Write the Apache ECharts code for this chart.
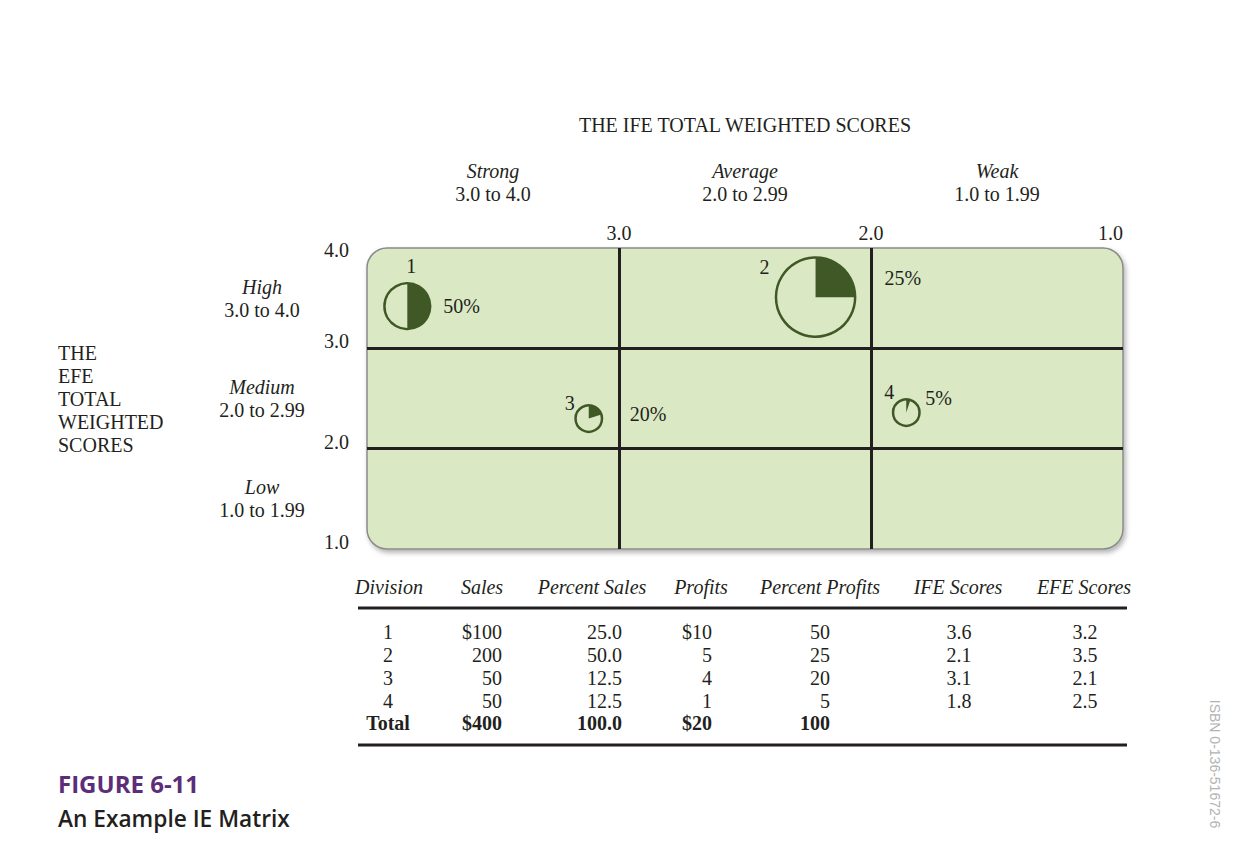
<!DOCTYPE html>
<html>
<head>
    <meta charset="utf-8">
    <title>IE Matrix</title>
    <script src="https://cdn.jsdelivr.net/npm/echarts@6.0.0/dist/echarts.min.js"></script>
    <style>
        html, body {
            margin: 0;
            width: 100%;
            height: 100%;
            background: #ffffff;
        }

        #main {
            width: 1238px;
            height: 852px;
        }
    </style>
</head>
<body>
<div id="main"></div>
<script type="text/javascript">
    // table data
    const divisions = [1, 2, 3, 4];
    const sales = [100, 200, 50, 50];
    const percentSales = [25.0, 50.0, 12.5, 12.5];
    const profits = [10, 5, 4, 1];
    const percentProfits = [50, 25, 20, 5];
    const ifeScores = [3.6, 2.1, 3.1, 1.8];
    const efeScores = [3.2, 3.5, 2.1, 2.5];

    // where the circles sit in the drawn matrix
    const ifePlot = [3.84, 2.22, 3.12, 1.86];
    const efePlot = [3.42, 3.51, 2.30, 2.36];

    // axis texts
    const ifeBands = ['Strong', 'Average', 'Weak'];
    const ifeRanges = ['3.0 to 4.0', '2.0 to 2.99', '1.0 to 1.99'];
    const efeBands = ['Low', 'Medium', 'High'];
    const efeRanges = ['1.0 to 1.99', '2.0 to 2.99', '3.0 to 4.0'];
    const splitScores = [3, 2];
    const headers = ['Division', 'Sales', 'Percent Sales', 'Profits', 'Percent Profits', 'IFE Scores', 'EFE Scores'];

    const ink = '#231f20';
    const olive = '#3f5826';
    const serif = '"Liberation Serif", "Times New Roman", serif';

    // label offsets around each circle (px)
    const numOffsets = [[4, -40], [-51, -30], [-19, -16], [-17, -21]];
    const pctOffsets = [[36, 0], [69, -19], [41, -5], [19, -15]];

    var myChart = echarts.init(document.getElementById('main'), null, {renderer: 'svg'});

    const bubbleData = divisions.map((d, i) => [ifePlot[i], efePlot[i], percentSales[i], percentProfits[i]]);

    // ---- table below the matrix ----
    const headerX = [389, 482, 592, 701, 820, 958, 1084];
    const colX = [388, 502, 622, 712, 830, 959, 1085];
    const colAlign = ['center', 'right', 'right', 'right', 'right', 'center', 'center'];
    const rowY = [632, 655, 678, 701];
    const totalY = 723;

    const sum = arr => arr.reduce((a, b) => a + b, 0);

    const rows = divisions.map((d, i) => [
        String(d),
        (i === 0 ? '$' : '') + sales[i],
        percentSales[i].toFixed(1),
        (i === 0 ? '$' : '') + profits[i],
        String(percentProfits[i]),
        ifeScores[i].toFixed(1),
        efeScores[i].toFixed(1)
    ]);
    const totalRow = ['Total', '$' + sum(sales), sum(percentSales).toFixed(1), '$' + sum(profits), String(sum(percentProfits)), '', ''];

    let graphics = [];
    headers.forEach((h, c) => {
        graphics.push({
            type: 'text', x: headerX[c], y: 587,
            style: {text: h, font: 'italic 20px ' + serif, fill: ink, align: 'center', verticalAlign: 'middle'}
        });
    });
    rows.forEach((row, r) => {
        row.forEach((t, c) => {
            graphics.push({
                type: 'text', x: colX[c], y: rowY[r],
                style: {text: t, font: '20px ' + serif, fill: ink, align: colAlign[c], verticalAlign: 'middle'}
            });
        });
    });
    totalRow.forEach((t, c) => {
        if (!t) return;
        graphics.push({
            type: 'text', x: colX[c], y: totalY,
            style: {text: t, font: 'bold 20px ' + serif, fill: ink, align: colAlign[c], verticalAlign: 'middle'}
        });
    });
    [608, 745].forEach(y => {
        graphics.push({
            type: 'line', shape: {x1: 358, y1: y, x2: 1127, y2: y},
            style: {stroke: ink, lineWidth: 3}
        });
    });

    // caption + side note
    graphics.push({
        type: 'text', x: 58, y: 783,
        style: {text: 'FIGURE 6-11', font: 'bold 24px "Open Sans", "Noto Sans", sans-serif', fill: '#5c2d78', align: 'left', verticalAlign: 'middle'}
    });
    graphics.push({
        type: 'text', x: 58, y: 818,
        style: {text: 'An Example IE Matrix', font: '600 22.7px "Open Sans", "Noto Sans", sans-serif', fill: ink, align: 'left', verticalAlign: 'middle'}
    });
    graphics.push({
        type: 'text', x: 1215, y: 764, rotation: -Math.PI / 2,
        style: {text: 'ISBN 0-136-51672-6', font: '14px "Liberation Sans", Arial, sans-serif', fill: '#b2b2b2', align: 'center', verticalAlign: 'middle'}
    });

    var option = {
        animation: false,
        grid: {
            left: 367,
            top: 248,
            width: 756,
            height: 301,
            containLabel: false,
            outerBoundsMode: 'none'
        },
        xAxis: [
            {
                type: 'value',
                position: 'top',
                inverse: true,
                min: 1,
                max: 4,
                interval: 1,
                name: 'THE IFE TOTAL WEIGHTED SCORES',
                nameLocation: 'middle',
                nameGap: 123,
                nameTextStyle: {fontFamily: serif, fontSize: 20, color: ink, verticalAlign: 'middle'},
                axisLine: {show: false},
                axisTick: {show: false},
                splitLine: {show: false},
                axisLabel: {
                    showMaxLabel: false,
                    alignMinLabel: 'right',
                    margin: 5,
                    fontFamily: serif,
                    fontSize: 20,
                    color: ink,
                    formatter: v => v.toFixed(1)
                }
            },
            {
                type: 'category',
                position: 'top',
                data: ifeBands,
                axisLine: {show: false},
                axisTick: {show: false},
                splitLine: {show: false},
                axisLabel: {
                    margin: 43,
                    color: ink,
                    formatter: (v, i) => '{b|' + v + '}\n{r|' + ifeRanges[i] + '}',
                    rich: {
                        b: {fontFamily: serif, fontStyle: 'italic', fontSize: 20, lineHeight: 23, color: ink},
                        r: {fontFamily: serif, fontSize: 20, lineHeight: 23, color: ink}
                    }
                }
            }
        ],
        yAxis: [
            {
                type: 'value',
                position: 'left',
                min: 1,
                max: 4,
                interval: 1,
                name: 'THE\nEFE\nTOTAL\nWEIGHTED\nSCORES',
                nameLocation: 'middle',
                nameRotate: 0,
                nameGap: 309,
                nameTextStyle: {fontFamily: serif, fontSize: 20, lineHeight: 23, color: ink, align: 'left', verticalAlign: 'middle'},
                axisLine: {show: false},
                axisTick: {show: false},
                splitLine: {show: false},
                axisLabel: {
                    margin: 18,
                    verticalAlign: 'middle',
                    formatter: v => (v === 4 ? '{t|' : '{n|') + v.toFixed(1) + '}',
                    rich: {
                        t: {fontFamily: serif, fontSize: 20, color: ink, padding: [4, 0, 0, 0]},
                        n: {fontFamily: serif, fontSize: 20, color: ink, padding: [0, 0, 14, 0]}
                    }
                }
            },
            {
                type: 'category',
                position: 'left',
                offset: 0,
                data: efeBands,
                axisLine: {show: false},
                axisTick: {show: false},
                splitLine: {show: false},
                axisLabel: {
                    margin: 105,
                    align: 'center',
                    formatter: (v, i) => '{b|' + v + '}\n{r|' + efeRanges[i] + '}',
                    rich: {
                        b: {fontFamily: serif, fontStyle: 'italic', fontSize: 20, lineHeight: 23, color: ink, align: 'center'},
                        r: {fontFamily: serif, fontSize: 20, lineHeight: 23, color: ink, align: 'center'}
                    }
                }
            }
        ],
        graphic: graphics,
        series: [
            {
                // rounded green panel
                type: 'custom',
                z: 1,
                silent: true,
                data: [[4, 4, 1, 1]],
                renderItem: function (params, api) {
                    var p0 = api.coord([api.value(0), api.value(1)]);
                    var p1 = api.coord([api.value(2), api.value(3)]);
                    return {
                        type: 'rect',
                        shape: {
                            x: Math.min(p0[0], p1[0]),
                            y: Math.min(p0[1], p1[1]),
                            width: Math.abs(p1[0] - p0[0]),
                            height: Math.abs(p1[1] - p0[1]),
                            r: 20
                        },
                        style: {
                            fill: '#dae9c4',
                            stroke: '#8a8a8a',
                            lineWidth: 1.5,
                            shadowBlur: 5,
                            shadowOffsetX: 2,
                            shadowOffsetY: 3,
                            shadowColor: 'rgba(0,0,0,0.3)'
                        }
                    };
                }
            },
            {
                type: 'line',
                z: 2,
                silent: true,
                data: [],
                markLine: {
                    silent: true,
                    symbol: ['none', 'none'],
                    label: {show: false},
                    lineStyle: {color: ink, width: 3, type: 'solid'},
                    data: splitScores.map(v => ({xAxis: v})).concat(splitScores.map(v => ({yAxis: v})))
                }
            },
            {
                // division circles, slice = share of profits
                type: 'custom',
                z: 3,
                silent: true,
                data: bubbleData,
                renderItem: function (params, api) {
                    var i = params.dataIndex;
                    var c = api.coord([api.value(0), api.value(1)]);
                    var r = 1.8 * Math.pow(api.value(2), 0.79);
                    var a0 = -Math.PI / 2;
                    var a1 = a0 + api.value(3) / 100 * Math.PI * 2;
                    return {
                        type: 'group',
                        children: [
                            {
                                type: 'sector',
                                shape: {cx: c[0], cy: c[1], r0: 0, r: r, startAngle: a0, endAngle: a1, clockwise: true},
                                style: {fill: olive}
                            },
                            {
                                type: 'circle',
                                shape: {cx: c[0], cy: c[1], r: r},
                                style: {fill: 'none', stroke: olive, lineWidth: 2.5}
                            },
                            {
                                type: 'text',
                                x: c[0] + numOffsets[i][0],
                                y: c[1] + numOffsets[i][1],
                                style: {text: String(divisions[i]), font: '20px ' + serif, fill: ink, align: 'center', verticalAlign: 'middle'}
                            },
                            {
                                type: 'text',
                                x: c[0] + pctOffsets[i][0],
                                y: c[1] + pctOffsets[i][1],
                                style: {text: api.value(3) + '%', font: '20px ' + serif, fill: ink, align: 'left', verticalAlign: 'middle'}
                            }
                        ]
                    };
                }
            }
        ]
    };

    myChart.setOption(option);
</script>
</body>
</html>
